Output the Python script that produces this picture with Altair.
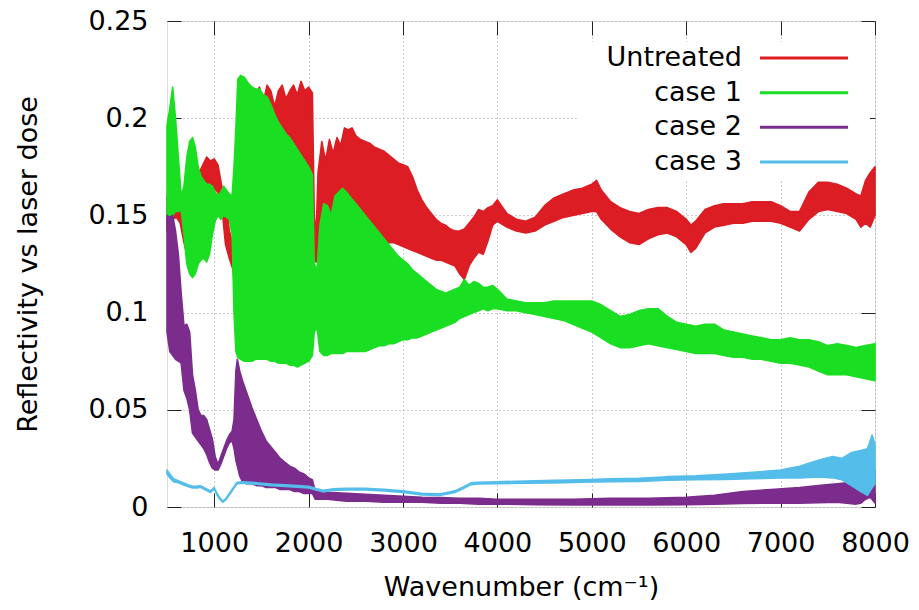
import altair as alt
import pandas as pd

SERIES = ["Untreated", "case 1", "case 2", "case 3"]
COLORS = ["#dc1d24", "#1ade22", "#7b2c8c", "#55bdea"]
X_DOMAIN = [500, 8000]
Y_DOMAIN = [0, 0.25]
X_TICKS = [1000, 2000, 3000, 4000, 5000, 6000, 7000, 8000]
Y_TICKS = [0, 0.05, 0.1, 0.15, 0.2, 0.25]

# (wavenumber, lower envelope, upper envelope)
UNTREATED = [
    (500, .142, .160), (530, .146, .157), (560, .148, .154), (600, .149, .153), (640, .146, .152),
    (680, .136, .148), (720, .128, .140), (760, .127, .142), (800, .130, .158), (840, .135, .172),
    (880, .145, .176), (920, .160, .180), (960, .163, .178), (1000, .164, .179), (1040, .162, .176),
    (1080, .155, .165), (1120, .135, .160), (1160, .128, .142), (1200, .122, .135), (1240, .100, .130),
    (1270, .080, .115), (1290, .078, .190), (1320, .080, .210), (1360, .080, .214), (1400, .080, .216),
    (1440, .080, .213), (1480, .080, .216), (1520, .080, .208), (1560, .080, .217), (1600, .080, .214),
    (1640, .080, .206), (1680, .080, .214), (1720, .080, .217), (1760, .080, .210), (1800, .080, .214),
    (1840, .080, .217), (1880, .080, .212), (1920, .080, .219), (1960, .080, .214), (2000, .080, .216),
    (2040, .085, .213), (2060, .128, .150), (2080, .126, .140), (2100, .128, .172), (2140, .129, .188),
    (2180, .130, .178), (2220, .131, .189), (2260, .132, .182), (2300, .133, .190), (2340, .134, .186),
    (2380, .134, .195), (2420, .135, .194), (2460, .135, .195), (2500, .136, .191), (2550, .136, .189),
    (2600, .136, .188), (2650, .136, .187), (2700, .136, .185), (2750, .136, .184), (2800, .136, .183),
    (2850, .136, .181), (2900, .136, .179), (2950, .135, .177), (3000, .134, .176), (3050, .133, .175),
    (3100, .132, .170), (3150, .131, .163), (3200, .130, .158), (3250, .129, .154), (3300, .128, .151),
    (3350, .127, .148), (3400, .127, .146), (3450, .126, .145), (3500, .125, .143), (3550, .124, .142),
    (3600, .120, .142), (3650, .117, .143), (3700, .124, .146), (3750, .128, .149), (3800, .131, .153),
    (3850, .130, .152), (3900, .137, .154), (3950, .145, .155), (4000, .147, .158), (4100, .144, .151),
    (4200, .142, .148), (4300, .141, .147), (4400, .142, .149), (4500, .145, .155), (4600, .147, .159),
    (4700, .149, .161), (4800, .150, .163), (4900, .151, .164), (5000, .152, .166), (5050, .152, .168),
    (5100, .148, .163), (5200, .143, .157), (5300, .139, .154), (5400, .136, .152), (5500, .135, .151),
    (5600, .138, .153), (5700, .140, .154), (5800, .141, .154), (5900, .139, .152), (6000, .135, .148),
    (6050, .131, .145), (6100, .133, .147), (6200, .141, .153), (6300, .144, .155), (6400, .145, .156),
    (6500, .146, .156), (6600, .146, .156), (6700, .147, .157), (6800, .147, .157), (6900, .147, .157),
    (7000, .146, .155), (7100, .144, .152), (7200, .142, .152), (7300, .148, .162), (7400, .152, .167),
    (7500, .153, .167), (7600, .152, .166), (7700, .151, .164), (7800, .148, .161), (7850, .144, .160),
    (7900, .146, .168), (7950, .144, .172), (8000, .150, .175),
]

CASE1 = [
    (500, .150, .196), (530, .149, .205), (560, .150, .216), (590, .152, .200), (620, .152, .180),
    (650, .153, .160), (680, .140, .165), (710, .125, .180), (740, .120, .188), (770, .118, .190),
    (800, .120, .185), (830, .125, .175), (860, .127, .170), (890, .128, .168), (920, .126, .166),
    (950, .130, .166), (980, .140, .165), (1010, .147, .162), (1040, .150, .160), (1070, .148, .162),
    (1100, .150, .165), (1130, .149, .163), (1160, .148, .161), (1190, .140, .160), (1210, .100, .175),
    (1230, .080, .195), (1250, .077, .220), (1280, .076, .222), (1320, .075, .221), (1360, .075, .218),
    (1400, .075, .216), (1440, .076, .215), (1480, .076, .215), (1520, .076, .212), (1560, .076, .211),
    (1600, .075, .207), (1640, .075, .202), (1680, .074, .198), (1720, .074, .195), (1760, .074, .192),
    (1800, .073, .190), (1840, .073, .187), (1880, .072, .184), (1920, .073, .181), (1960, .074, .178),
    (2000, .075, .175), (2040, .078, .171), (2060, .090, .125), (2090, .092, .122), (2120, .080, .145),
    (2160, .078, .156), (2200, .078, .155), (2240, .079, .150), (2280, .079, .160), (2320, .079, .162),
    (2360, .079, .164), (2400, .080, .162), (2450, .080, .159), (2500, .080, .156), (2550, .080, .153),
    (2600, .080, .150), (2650, .081, .147), (2700, .082, .144), (2750, .083, .141), (2800, .083, .138),
    (2850, .084, .135), (2900, .084, .132), (2950, .085, .129), (3000, .086, .127), (3050, .086, .125),
    (3100, .087, .122), (3150, .087, .120), (3200, .088, .118), (3250, .089, .116), (3300, .090, .114),
    (3350, .091, .112), (3400, .092, .111), (3450, .093, .110), (3500, .094, .111), (3550, .095, .112),
    (3600, .097, .113), (3650, .098, .117), (3700, .099, .114), (3750, .100, .116), (3800, .101, .115),
    (3850, .102, .113), (3900, .101, .113), (3950, .102, .114), (4000, .102, .112), (4100, .101, .107),
    (4200, .101, .106), (4300, .100, .105), (4400, .099, .105), (4500, .098, .105), (4600, .097, .106),
    (4700, .096, .106), (4800, .094, .106), (4900, .092, .106), (5000, .090, .106), (5100, .087, .104),
    (5200, .084, .101), (5300, .082, .098), (5400, .082, .099), (5500, .083, .101), (5600, .084, .102),
    (5700, .083, .102), (5800, .082, .098), (5900, .081, .095), (6000, .080, .094), (6100, .079, .093),
    (6200, .079, .094), (6300, .079, .094), (6400, .078, .091), (6500, .077, .090), (6600, .077, .089),
    (6700, .076, .088), (6800, .076, .087), (6900, .075, .086), (7000, .074, .086), (7100, .074, .087),
    (7200, .073, .086), (7300, .072, .086), (7400, .070, .085), (7500, .068, .083), (7600, .068, .084),
    (7700, .068, .083), (7800, .067, .082), (7900, .066, .083), (8000, .065, .084),
]

CASE2 = [
    (500, .090, .150), (530, .080, .149), (560, .078, .150), (590, .076, .142), (620, .075, .130),
    (650, .074, .110), (680, .060, .093), (710, .056, .094), (740, .050, .090), (770, .038, .068),
    (800, .036, .060), (830, .034, .050), (860, .032, .047), (890, .030, .047), (920, .027, .045),
    (950, .023, .040), (980, .020, .035), (1010, .019, .026), (1040, .019, .022), (1070, .022, .026),
    (1100, .026, .030), (1130, .030, .034), (1160, .033, .037), (1190, .034, .039), (1210, .030, .045),
    (1230, .024, .070), (1245, .021, .076), (1270, .016, .070), (1300, .013, .065), (1350, .012, .058),
    (1400, .012, .051), (1450, .011, .045), (1500, .011, .039), (1550, .010, .034), (1600, .010, .031),
    (1650, .010, .028), (1700, .009, .025), (1750, .009, .023), (1800, .009, .021), (1850, .008, .020),
    (1900, .008, .018), (1950, .007, .017), (2000, .007, .015), (2040, .007, .014), (2070, .004, .008),
    (2200, .004, .0075), (2400, .003, .007), (2600, .003, .0065), (2800, .0025, .006), (3000, .0025, .0055),
    (3200, .0025, .005), (3400, .002, .0048), (3600, .002, .0045), (3800, .0015, .0045), (4000, .0015, .004),
    (4400, .0012, .004), (4800, .001, .004), (5200, .001, .0045), (5600, .001, .0045), (6000, .0012, .005),
    (6300, .0015, .006), (6600, .0018, .008), (6900, .002, .009), (7200, .002, .010), (7400, .0022, .011),
    (7600, .0025, .012), (7800, .0015, .013), (7850, .002, .018), (7900, .004, .017), (7950, .005, .020),
    (8000, .002, .019),
]

CASE3 = [
    (500, .0170, .0190), (530, .0150, .0170), (570, .0130, .0145), (620, .0125, .0135), (670, .0115, .0125),
    (720, .0105, .0115), (770, .0098, .0108), (820, .0098, .0106), (850, .0102, .0110), (880, .0095, .0103),
    (920, .0085, .0093), (960, .0075, .0083), (1000, .0093, .0100), (1030, .0062, .0070), (1060, .0040, .0048),
    (1090, .0024, .0030), (1120, .0035, .0042), (1160, .0062, .0070), (1200, .0090, .0098), (1240, .0118, .0126),
    (1280, .0122, .0130), (1350, .0120, .0128), (1450, .0117, .0125), (1600, .0110, .0118), (1800, .0105, .0113),
    (2000, .0098, .0106), (2100, .0085, .0093), (2150, .0078, .0086), (2250, .0085, .0093), (2400, .0088, .0096),
    (2600, .0088, .0096), (2800, .0083, .0091), (3000, .0075, .0083), (3200, .0062, .0070), (3400, .0060, .0068),
    (3550, .0075, .0083), (3650, .0098, .0106), (3720, .0115, .0124), (3800, .0118, .0127), (4000, .0120, .0130),
    (4300, .0122, .0134), (4600, .0124, .0137), (4900, .0127, .0140), (5200, .0130, .0145), (5500, .0132, .0148),
    (5800, .0138, .0156), (6100, .0140, .0160), (6400, .0142, .0168), (6700, .0145, .0178), (7000, .0150, .0190),
    (7200, .0150, .0210), (7400, .0155, .0240), (7550, .0150, .0260), (7650, .0140, .0250), (7750, .0110, .0280),
    (7850, .0080, .0290), (7920, .0060, .0300), (7970, .0100, .0370), (8000, .0120, .0320),
]

FONT = "DejaVu Sans"
FS = 27

x_scale = alt.Scale(domain=X_DOMAIN, nice=False, zero=False)
y_scale = alt.Scale(domain=Y_DOMAIN, nice=False)

x_axis = alt.Axis(values=X_TICKS, format="d", grid=True, gridDash=[1, 3], gridColor="#9a9a9a",
                  gridWidth=1, tickSize=14, offset=-14, domain=False, tickColor="#222222",
                  labelPadding=23, labelFontSize=FS, labelFont=FONT, labelColor="black",
                  labelOverlap=False, labelFlush=False,
                  title="Wavenumber (cm\u207b\u00b9)", titleFontSize=FS, titleFont=FONT,
                  titleFontWeight="normal", titleColor="black", titlePadding=18)
y_axis = alt.Axis(values=Y_TICKS, format="~g", grid=True, gridDash=[1, 3], gridColor="#9a9a9a",
                  gridWidth=1, tickSize=14, offset=-14, domain=False, tickColor="#222222",
                  labelPadding=19, labelFontSize=FS, labelFont=FONT, labelColor="black",
                  labelOverlap=False, labelFlush=False,
                  title="Reflectivity vs laser dose", titleFontSize=FS, titleFont=FONT,
                  titleFontWeight="normal", titleColor="black", titlePadding=45)


def band(rows, color):
    df = pd.DataFrame(rows, columns=["wn", "lo", "hi"])
    return alt.Chart(df).mark_area(
        fill=color, stroke=color, strokeWidth=1.6, strokeJoin="round", fillOpacity=1
    ).encode(
        x=alt.X("wn:Q", scale=x_scale, axis=x_axis),
        y=alt.Y("lo:Q", scale=y_scale, axis=y_axis),
        y2="hi:Q",
    )


main = alt.layer(
    band(UNTREATED, COLORS[0]),
    band(CASE1, COLORS[1]),
    band(CASE2, COLORS[2]),
    band(CASE3, COLORS[3]),
)

# white key box hiding the grid
box = alt.Chart(pd.DataFrame({"name": SERIES[:1]})).mark_rect(fill="white").encode(
    x=alt.value(410), x2=alt.value(703), y=alt.value(21), y2=alt.value(160)
)

leg_df = pd.DataFrame({"name": SERIES})
leg_y = alt.Y("name:N", scale=alt.Scale(type="point", domain=SERIES, range=[37, 141], padding=0),
              axis=None)
leg_color = alt.Color("name:N", scale=alt.Scale(domain=SERIES, range=COLORS), legend=None)
leg_lines = alt.Chart(leg_df).mark_rule(strokeWidth=3).encode(
    x=alt.value(593), x2=alt.value(681), y=leg_y, color=leg_color
)
leg_text = alt.Chart(leg_df).mark_text(
    align="right", baseline="middle", fontSize=FS, font=FONT, color="black"
).encode(x=alt.value(575), y=leg_y, text="name:N")
legend = alt.layer(leg_lines, leg_text)

mirror_df = pd.DataFrame({"wn": X_DOMAIN, "v": Y_DOMAIN})
mirror = alt.Chart(mirror_df).mark_point(opacity=0).encode(
    x=alt.X("wn:Q", scale=x_scale,
            axis=alt.Axis(orient="top", values=X_TICKS, labels=False, grid=False, domain=False,
                          tickSize=14, offset=-14, tickColor="#222222", title=None)),
    y=alt.Y("v:Q", scale=y_scale,
            axis=alt.Axis(orient="right", values=Y_TICKS, labels=False, grid=False, domain=False,
                          tickSize=14, offset=-14, tickColor="#222222", title=None)),
)

chart = alt.layer(box, main, legend, mirror).resolve_scale(
    x="independent", y="independent", color="independent"
).properties(
    width=708, height=486,
    autosize=alt.AutoSizeParams(type="none"),
    padding={"left": 159, "top": 13, "right": 35, "bottom": 94},
).configure_view(stroke="#222222", strokeWidth=1.2).configure(background="white")

chart.save("out.html", embed_options={"renderer": "svg", "actions": False})
